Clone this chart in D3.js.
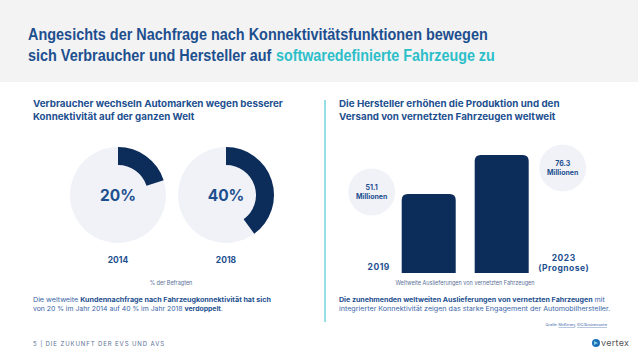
<!DOCTYPE html>
<html><head><meta charset="utf-8">
<script src="https://cdn.jsdelivr.net/npm/d3@7"></script>
<style>
html,body{margin:0;padding:0;background:#fff;}
svg{display:block;}
</style></head>
<body>
<svg id="c" width="638" height="359"></svg>
<script>
// ---- data ----
const donutYears = ["2014", "2018"];
const donutValues = [20, 40];
const barYears = ["2019", "2023"];
const barYearSub = ["", "(Prognose)"];
const barValues = [51.1, 76.3];
const barValueLabels = ["51.1", "76.3"];

const NAVY = "#0c2c5a", BLUE = "#1d4f8f", TEAL = "#2cbfca", LIGHT = "#f0f2f8";
const BODY = "Inter, 'Noto Sans', sans-serif";
const HEAD = "'Liberation Sans', Arial, sans-serif";

const svg = d3.select("#c");

// scale a text's font size so that its rendered width matches target width
function fitSize(sel, target){
  const fs = +sel.attr("font-size");
  const w = sel.node().getBBox().width;
  if (w > 0) sel.attr("font-size", fs * target / w);
  return sel;
}
function fitX(sel, target){
  const w = sel.node().getBBox().width;
  const x = +sel.attr("x"), y = +sel.attr("y");
  if (w > 0) sel.attr("transform", `translate(${x},0) scale(${target/w},1) translate(${-x},0)`);
  return sel;
}

// header
svg.append("rect").attr("x",0).attr("y",0).attr("width",638).attr("height",82).attr("fill","#f3f3f3");
const t1 = svg.append("text").attr("x",28).attr("y",40).attr("font-family",HEAD)
  .attr("font-weight","bold").attr("font-size",16.5).attr("fill",BLUE)
  .text("Angesichts der Nachfrage nach Konnektivitätsfunktionen bewegen");
fitX(t1, 460);
const t2a = svg.append("text").attr("x",28).attr("y",61).attr("font-family",HEAD)
  .attr("font-weight","bold").attr("font-size",16.5).attr("fill",BLUE)
  .text("sich Verbraucher und Hersteller auf");
fitX(t2a, 244);
const t2b = svg.append("text").attr("x",276).attr("y",61).attr("font-family",HEAD)
  .attr("font-weight","bold").attr("font-size",16.5).attr("fill",TEAL)
  .text("softwaredefinierte Fahrzeuge zu");
fitX(t2b, 219);

// ---- left panel ----
function line(x, y, s, size, weight, color, target){
  const t = svg.append("text").attr("x",x).attr("y",y).attr("font-family",BODY).attr("font-size",size)
    .attr("font-weight",weight).attr("fill",color).text(s);
  if (target) fitX(t, target);
  return t;
}
line(33,107,"Verbraucher wechseln Automarken wegen besserer",9.2,"bold",BLUE,250);
line(33,120,"Konnektivität auf der ganzen Welt",9.2,"bold",BLUE,162);

const xd = d3.scalePoint().domain(donutYears).range([118, 226]);
const pct = d3.scaleLinear().domain([0,100]).range([0, 2*Math.PI]);
const cy = 195, R = 48, r = 30;
const arcBg = d3.arc().innerRadius(0).outerRadius(R).startAngle(0).endAngle(2*Math.PI);
const arcFg = d3.arc().innerRadius(r).outerRadius(R).startAngle(0);
const g = svg.selectAll("g.donut").data(donutYears.map((y,i)=>({y, v: donutValues[i]}))).enter()
  .append("g").attr("class","donut").attr("transform",d=>`translate(${xd(d.y)},${cy})`);
g.append("path").attr("d",arcBg()).attr("fill",LIGHT);
g.append("path").attr("d",d=>arcFg.endAngle(pct(d.v))()).attr("fill",NAVY);
g.append("text").attr("y",6).attr("text-anchor","middle").attr("font-family",BODY).attr("font-weight","bold")
  .attr("font-size",15.5).attr("fill",BLUE).text(d=>d.v+"%");
g.append("text").attr("y",68).attr("text-anchor","middle").attr("font-family",BODY).attr("font-weight","bold")
  .attr("font-size",8.5).attr("fill",BLUE).text(d=>d.y);

svg.append("text").attr("x",171).attr("y",285).attr("text-anchor","middle").attr("font-family",BODY)
  .attr("font-size",5.5).attr("fill","#5a6f96").text("% der Befragten");

const c1 = svg.append("text").attr("x",33).attr("y",302).attr("font-family",BODY).attr("font-size",6.4).attr("fill","#3a66a8");
c1.append("tspan").text("Die weltweite ");
c1.append("tspan").attr("font-weight","bold").attr("fill",BLUE).text("Kundennachfrage nach Fahrzeugkonnektivität hat sich");
fitX(c1, 238);
const c2 = svg.append("text").attr("x",33).attr("y",311).attr("font-family",BODY).attr("font-size",6.4).attr("fill","#3a66a8");
c2.append("tspan").text("von 20 % im Jahr 2014 auf 40 % im Jahr 2018 ");
c2.append("tspan").attr("font-weight","bold").attr("fill",BLUE).text("verdoppelt");
c2.append("tspan").text(".");
fitX(c2, 190);

svg.append("text").attr("x",33).attr("y",346).attr("font-family",BODY).attr("font-size",6)
  .attr("letter-spacing",0.9).attr("fill","#5d7096").text("5 | DIE ZUKUNFT DER EVS UND AVS");

// ---- right panel ----
svg.append("line").attr("x1",325).attr("x2",325).attr("y1",100).attr("y2",322).attr("stroke",TEAL).attr("stroke-width",1);
line(339,107,"Die Hersteller erhöhen die Produktion und den",9.2,"bold",BLUE,221);
line(339,120,"Versand von vernetzten Fahrzeugen weltweit",9.2,"bold",BLUE,217);

const xb = d3.scaleBand().domain(barYears).range([401.7, 528.7]).paddingInner(0.26).paddingOuter(0);
const yb = d3.scaleLinear().domain([0, 76.3]).range([273, 155]);
function topRounded(x, y, w, h, rr){
  return `M${x},${y+h}V${y+rr}Q${x},${y} ${x+rr},${y}H${x+w-rr}Q${x+w},${y} ${x+w},${y+rr}V${y+h}Z`;
}
const bars = barYears.map((y,i)=>({y, v: barValues[i], lab: barValueLabels[i], sub: barYearSub[i], i}));
svg.selectAll("path.bar").data(bars).enter().append("path").attr("class","bar")
  .attr("d",d=>topRounded(xb(d.y), yb(d.v), xb.bandwidth(), yb(0)-yb(d.v), 6)).attr("fill",NAVY);

// value bubbles
const bub = svg.selectAll("g.bub").data(bars).enter().append("g").attr("class","bub")
  .attr("transform",d=> d.i===0 ? `translate(${xb(d.y)-30},${yb(d.v)-2})` : `translate(${xb(d.y)+xb.bandwidth()+34},${yb(d.v)+13})`);
bub.append("circle").attr("r",23.5).attr("fill",LIGHT);
bub.append("text").attr("y",-2).attr("text-anchor","middle").attr("font-family",BODY).attr("font-weight","bold")
  .attr("font-size",7).attr("fill",BLUE).text(d=>d.lab);
bub.append("text").attr("y",7).attr("text-anchor","middle").attr("font-family",BODY).attr("font-weight","bold")
  .attr("font-size",7).attr("fill",BLUE).text("Millionen");

// year labels
bars.forEach(d=>{
  if(d.i===0){
    svg.append("text").attr("x",xb(d.y)-23).attr("y",270).attr("text-anchor","middle").attr("font-family",BODY)
      .attr("font-weight","bold").attr("font-size",8.5).attr("letter-spacing",0.5).attr("fill",BLUE).text(d.y);
  } else {
    const cx = xb(d.y)+xb.bandwidth()+35;
    svg.append("text").attr("x",cx).attr("y",261).attr("text-anchor","middle").attr("font-family",BODY)
      .attr("font-weight","bold").attr("font-size",8.5).attr("letter-spacing",0.5).attr("fill",BLUE).text(d.y);
    svg.append("text").attr("x",cx).attr("y",271).attr("text-anchor","middle").attr("font-family",BODY)
      .attr("font-weight","bold").attr("font-size",8.5).attr("letter-spacing",0.5).attr("fill",BLUE).text(d.sub);
  }
});

svg.append("text").attr("x",465).attr("y",285).attr("text-anchor","middle").attr("font-family",BODY)
  .attr("font-size",5.5).attr("fill","#5a6f96").text("Weltweite Auslieferungen von vernetzten Fahrzeugen");

const r1 = svg.append("text").attr("x",339).attr("y",302).attr("font-family",BODY).attr("font-size",6.4).attr("fill","#3a66a8");
r1.append("tspan").attr("font-weight","bold").attr("fill",BLUE).text("Die zunehmenden weltweiten Auslieferungen von vernetzten Fahrzeugen");
r1.append("tspan").text(" mit");
fitX(r1, 266);
const r2 = svg.append("text").attr("x",339).attr("y",311).attr("font-family",BODY).attr("font-size",6.4).attr("fill","#3a66a8")
  .text("integrierter Konnektivität zeigen das starke Engagement der Automobilhersteller.");
fitX(r2, 272);

const src = svg.append("text").attr("x",607).attr("y",326).attr("text-anchor","end").attr("font-family",BODY)
  .attr("font-size",3.6).attr("fill","#3a66a8");
src.append("tspan").text("Quelle: ");
src.append("tspan").attr("text-decoration","underline").text("McKinsey");
src.append("tspan").text(", ");
src.append("tspan").attr("text-decoration","underline").text("IDC/Businesswire");

// logo
svg.append("circle").attr("cx",596).attr("cy",343).attr("r",4).attr("fill","#1d6fb8");
svg.append("path").attr("d","M594,341 L598,343 L594,345 Z").attr("fill","#7fd0e0");
svg.append("text").attr("x",601).attr("y",346).attr("font-family",BODY).attr("font-size",9).attr("fill","#555")
  .attr("letter-spacing",0.3).text("vertex");
</script>
</body></html>
